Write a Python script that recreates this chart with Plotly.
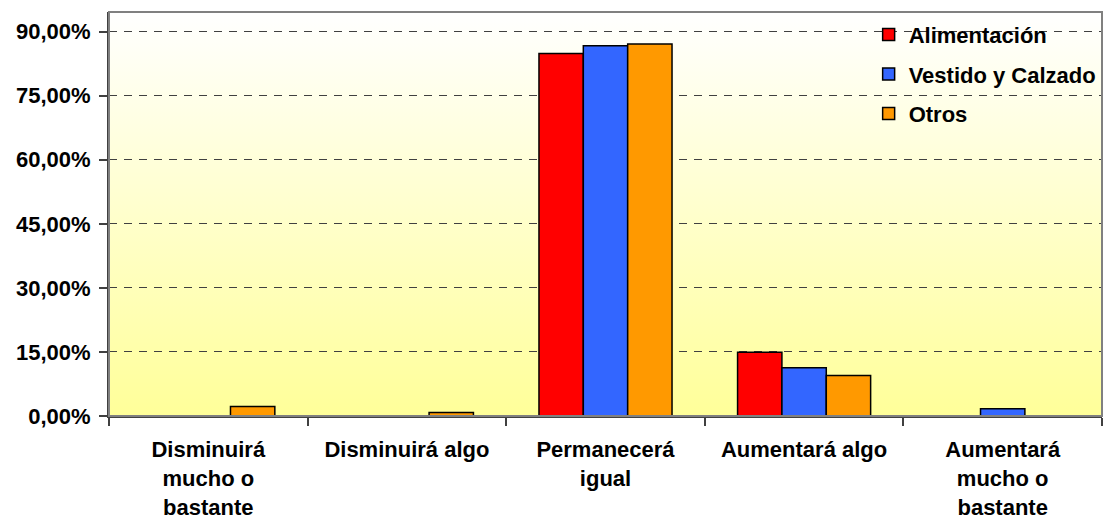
import plotly.graph_objects as go

# Categories (axis labels) and series values, in percent
categories = [
    "Disminuirá<br>mucho o<br>bastante",
    "Disminuirá algo",
    "Permanecerá<br>igual",
    "Aumentará algo",
    "Aumentará<br>mucho o<br>bastante",
]
series_names = ["Alimentación", "Vestido y Calzado", "Otros"]
alimentacion = [0, 0, 84.9, 14.9, 0]
vestido_calzado = [0, 0, 86.7, 11.3, 1.7]
otros = [2.2, 0.8, 87.1, 9.5, 0]
series_values = [alimentacion, vestido_calzado, otros]
series_colors = ["#FF0000", "#3366FF", "#FF9900"]

y_ticks = [0, 15, 30, 45, 60, 75, 90]
y_tick_labels = ["0,00%", "15,00%", "30,00%", "45,00%", "60,00%", "75,00%", "90,00%"]

FONT = "Liberation Sans, Arial, sans-serif"
FSIZE = 22

fig = go.Figure()
for name, vals, color in zip(series_names, series_values, series_colors):
    fig.add_trace(go.Bar(
        x=categories, y=vals, name="<b>" + name + "</b>", legendgroup=name,
        marker=dict(color=color, line=dict(color="#000000", width=1.5)),
    ))

# Vertical white-to-yellow gradient behind the plot area
gradient_svg = (
    "data:image/svg+xml;utf8,"
    "<svg xmlns='http://www.w3.org/2000/svg' width='100' height='100' preserveAspectRatio='none'>"
    "<defs><linearGradient id='g' x1='0' y1='0' x2='0' y2='1'>"
    "<stop offset='0' stop-color='%23FFFFFF'/>"
    "<stop offset='1' stop-color='%23FFFF99'/>"
    "</linearGradient></defs>"
    "<rect width='100' height='100' fill='url(%23g)'/></svg>"
)
fig.add_layout_image(dict(
    source=gradient_svg, xref="paper", yref="paper", x=0, y=1,
    sizex=1, sizey=1, xanchor="left", yanchor="top",
    sizing="stretch", layer="below",
))

# Plot frame (top and right edges)
fig.add_shape(type="rect", xref="paper", yref="paper", x0=0, y0=0, x1=1, y1=1,
              line=dict(color="#808080", width=2), layer="above")

fig.update_layout(
    width=1105, height=523,
    margin=dict(l=109, r=3, t=12, b=107),
    paper_bgcolor="#FFFFFF",
    plot_bgcolor="rgba(0,0,0,0)",
    barmode="group",
    bargap=0.33,
    bargroupgap=0,
    font=dict(family=FONT, size=FSIZE, color="#000000"),
    showlegend=True,
    legend=dict(
        x=0.765, y=0.996, xanchor="left", yanchor="top",
        bgcolor="rgba(0,0,0,0)", borderwidth=0,
        font=dict(family=FONT, size=FSIZE, color="#000000"),
        traceorder="grouped", tracegroupgap=8,
    ),
    xaxis=dict(
        type="category",
        automargin=False,
        tickson="boundaries",
        ticks="outside", ticklen=8, tickcolor="#404040", tickwidth=1.5,
        showline=True, linecolor="#404040", linewidth=2,
        showgrid=False,
        tickfont=dict(family=FONT, size=FSIZE, color="#000000", weight="bold"),
        ticklabelstandoff=13,
    ),
    yaxis=dict(
        automargin=False,
        range=[0, 94.6],
        tickvals=y_ticks, ticktext=y_tick_labels,
        ticks="outside", ticklen=8, tickcolor="#404040", tickwidth=1.5,
        showline=True, linecolor="#404040", linewidth=2,
        showgrid=True, gridcolor="#404040", gridwidth=1, griddash="8px,7px",
        zeroline=False,
        tickfont=dict(family=FONT, size=FSIZE, color="#000000", weight="bold"),
        ticklabelstandoff=4,
    ),
)

fig.write_html("out.html")
